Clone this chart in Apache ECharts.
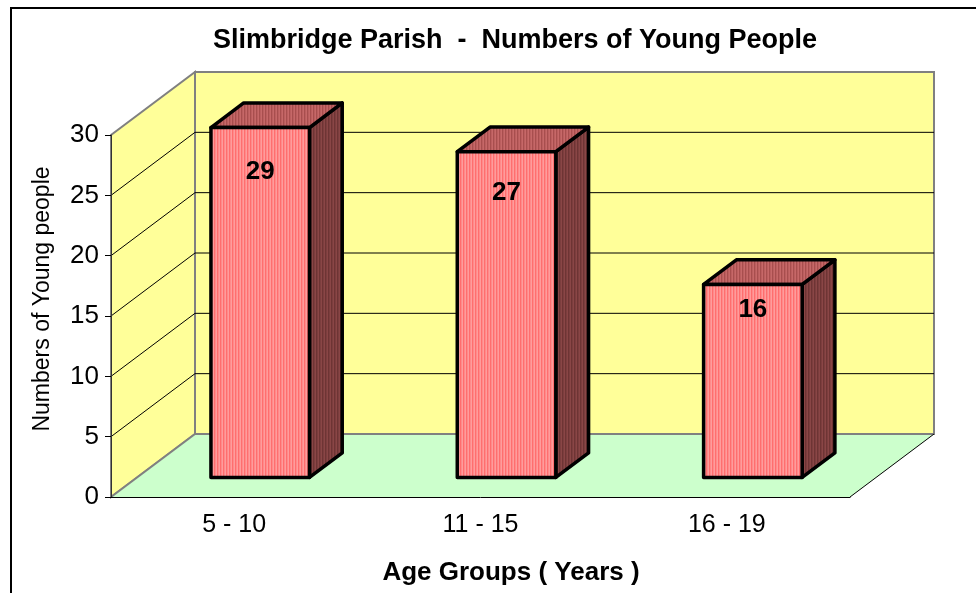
<!DOCTYPE html>
<html>
<head>
<meta charset="utf-8">
<script src="https://cdn.jsdelivr.net/npm/echarts@6/dist/echarts.min.js"></script>
<style>
  html, body { margin: 0; padding: 0; background: #fff; }
  #chart { width: 976px; height: 593px; }
</style>
</head>
<body>
<div id="chart"></div>
<script>
// data
const categories = ['5 - 10', '11 - 15', '16 - 19'];
const counts = [29, 27, 16];
const yTicks = [0, 5, 10, 15, 20, 25, 30];

// 3d look: how far the back wall sits from the front plane (px)
const DX = 84, DY = -63;
// bar depth, as fraction of the floor depth
const D0 = 0.31, D1 = 0.70;

// small striped patterns like the old excel fill
function stripes(cols) {
  const c = document.createElement('canvas');
  c.width = cols.length; c.height = 4;
  const ctx = c.getContext('2d');
  cols.forEach((col, i) => { ctx.fillStyle = col; ctx.fillRect(i, 0, 1, 4); });
  return { image: c, repeat: 'repeat' };
}
const frontFill = stripes(['#ff9c9c', '#ff6e6e', '#ff8a8a']);
const topFill = stripes(['#c66868', '#a84e4e', '#bb5e5e']);
const sideFill = stripes(['#8a4646', '#6e3434', '#7c3e3e']);

const FONT = '"Liberation Sans", Arial, sans-serif';

var myChart = echarts.init(document.getElementById('chart'));

function renderWalls(params, api) {
  const cs = params.coordSys;
  const x = cs.x, w = cs.width;
  const yF = (v) => api.coord([0, v])[1];
  const y0 = yF(0), yTop = yF(yTicks[yTicks.length - 1]);
  const children = [];
  // back wall
  children.push({
    type: 'rect',
    shape: { x: x + DX, y: yTop + DY, width: w, height: y0 - yTop },
    style: { fill: '#ffff99', stroke: '#808080', lineWidth: 2 }
  });
  // side wall
  children.push({
    type: 'polygon',
    shape: { points: [[x, y0], [x, yTop], [x + DX, yTop + DY], [x + DX, y0 + DY]] },
    style: { fill: '#ffff99', stroke: '#808080', lineWidth: 2 }
  });
  // floor
  children.push({
    type: 'polygon',
    shape: { points: [[x, y0], [x + DX, y0 + DY], [x + w + DX, y0 + DY], [x + w, y0]] },
    style: { fill: '#ccffcc', stroke: null }
  });
  children.push({
    type: 'line',
    shape: { x1: x, y1: y0, x2: x + DX, y2: y0 + DY },
    style: { stroke: '#808080', lineWidth: 2 }
  });
  children.push({
    type: 'line',
    shape: { x1: x + DX, y1: y0 + DY, x2: x + w + DX, y2: y0 + DY },
    style: { stroke: '#808080', lineWidth: 2 }
  });
  children.push({
    type: 'line',
    shape: { x1: x + w + DX, y1: y0 + DY, x2: x + w, y2: y0 },
    style: { stroke: '#000', lineWidth: 1 }
  });
  // grid lines on side + back wall
  yTicks.slice(1, -1).forEach((v) => {
    const yy = yF(v);
    children.push({
      type: 'polyline',
      shape: { points: [[x, yy], [x + DX, yy + DY], [x + w + DX, yy + DY]] },
      style: { stroke: '#000', lineWidth: 1, fill: null }
    });
  });
  return { type: 'group', children: children };
}

function renderBar(params, api) {
  const cat = api.value(0), v = api.value(1);
  const base = api.coord([cat, 0]);
  const top = api.coord([cat, v]);
  const bw = api.size([1, 0])[0] * 0.4;
  const x0 = base[0] - bw / 2 + DX * D0;
  const yb = base[1] + DY * D0;
  const yt = top[1] + DY * D0;
  const ddx = DX * (D1 - D0), ddy = DY * (D1 - D0);
  const line = { stroke: '#000', lineWidth: 3.5, lineJoin: 'round' };
  return {
    type: 'group',
    children: [
      {
        type: 'polygon',
        shape: { points: [[x0 + bw, yt], [x0 + bw + ddx, yt + ddy], [x0 + bw + ddx, yb + ddy], [x0 + bw, yb]] },
        style: Object.assign({ fill: sideFill }, line)
      },
      {
        type: 'polygon',
        shape: { points: [[x0, yt], [x0 + bw, yt], [x0 + bw + ddx, yt + ddy], [x0 + ddx, yt + ddy]] },
        style: Object.assign({ fill: topFill }, line)
      },
      {
        type: 'rect',
        shape: { x: x0, y: yt, width: bw, height: yb - yt },
        style: Object.assign({ fill: frontFill }, line)
      },
      {
        // excel puts the value label at ~88% of the bar height
        type: 'text',
        style: {
          text: String(v), x: x0 + bw / 2, y: yb - 0.88 * (yb - yt) + 2,
          align: 'center', verticalAlign: 'middle',
          font: 'bold 26px ' + FONT, fill: '#000'
        }
      }
    ]
  };
}

var option = {
  animation: false,
  textStyle: { fontFamily: FONT },
  title: {
    text: 'Slimbridge Parish  -  Numbers of Young People',
    left: 510, top: 22, textAlign: 'center',
    textStyle: { fontSize: 27, fontWeight: 'bold', color: '#000' }
  },
  grid: { left: 111, right: 126, top: 135, bottom: 96 },
  xAxis: {
    type: 'category',
    data: categories,
    z: 5,
    axisLine: { lineStyle: { color: '#000', width: 1 } },
    axisTick: { length: 7, lineStyle: { color: '#000' } },
    axisLabel: { fontSize: 25, color: '#000', margin: 16 },
    splitLine: { show: false }
  },
  yAxis: {
    type: 'value',
    min: 0, max: 30, interval: 5,
    z: 5,
    axisLine: { show: true, lineStyle: { color: '#333', width: 1 } },
    axisTick: { show: true, length: 6, lineStyle: { color: '#000' } },
    axisLabel: { fontSize: 26, color: '#000', margin: 12 },
    splitLine: { show: false }
  },
  graphic: [
    {
      type: 'rect', z: 100,
      shape: { x: 11, y: 8, width: 1100, height: 1100 },
      style: { fill: null, stroke: '#000', lineWidth: 2 }
    },
    {
      type: 'text', x: 43, y: 299, rotation: Math.PI / 2,
      style: {
        text: 'Numbers of Young people', align: 'center', verticalAlign: 'middle',
        font: '23px ' + FONT, fill: '#000'
      }
    },
    {
      type: 'text', x: 511, y: 573,
      style: {
        text: 'Age Groups ( Years )', align: 'center', verticalAlign: 'middle',
        font: 'bold 26px ' + FONT, fill: '#000'
      }
    }
  ],
  series: [
    {
      type: 'custom', z: 1, silent: true,
      data: [[0, 0]],
      renderItem: renderWalls
    },
    {
      type: 'custom', z: 3,
      data: counts.map((v, i) => [i, v]),
      encode: { x: 0, y: 1 },
      renderItem: renderBar
    }
  ]
};

myChart.setOption(option);
</script>
</body>
</html>
